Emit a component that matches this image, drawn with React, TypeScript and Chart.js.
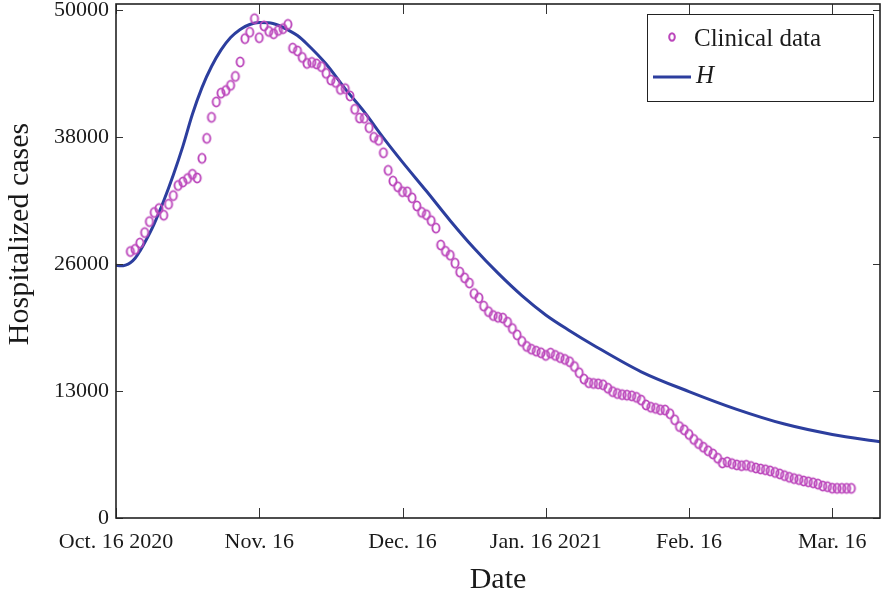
import React, { useEffect, useRef } from 'react';
import { Chart, registerables } from 'chart.js';

Chart.register(...registerables);

// ---- Data ----
const X_TICKS = [0, 30, 60, 90, 120, 150];
const X_LABELS = ['Oct. 16 2020', 'Nov. 16', 'Dec. 16', 'Jan. 16 2021', 'Feb. 16', 'Mar. 16'];
const Y_TICKS = [0, 12500, 25000, 37500, 50000];
const Y_LABELS = ['0', '13000', '26000', '38000', '50000'];

// Clinical data: one value per day, starting at day 3
const CLINICAL_START_DAY = 3;
const CLINICAL = [
  26240, 26460, 27080, 28110, 29190, 30090, 30470, 29820, 30900, 31750,
  32750, 33090, 33430, 33850, 33490, 35420, 37390, 39460, 40980, 41840,
  42100, 42610, 43490, 44910, 47210, 47840, 49170, 47300, 48460, 47920,
  47690, 48020, 48190, 48610, 46280, 46000, 45360, 44770, 44870, 44720,
  44450, 43790, 43130, 42900, 42210, 42280, 41570, 40250, 39390, 39370,
  38440, 37490, 37200, 35970, 34240, 33180, 32620, 32130, 32120, 31530,
  30730, 30110, 29870, 29280, 28550, 26880, 26270, 25880, 25090, 24220,
  23650, 23140, 22100, 21680, 20870, 20320, 19940, 19770, 19690, 19290,
  18660, 18040, 17400, 16900, 16620, 16430, 16270, 16010, 16240, 16010,
  15800, 15620, 15390, 14920, 14310, 13680, 13320, 13250, 13210, 13120,
  12780, 12440, 12260, 12150, 12100, 12030, 11880, 11610, 11130, 10910,
  10800, 10660, 10630, 10270, 9670, 9000, 8680, 8230, 7740, 7330,
  6970, 6620, 6310, 5890, 5420, 5510, 5350, 5230, 5150, 5190,
  5070, 4930, 4830, 4750, 4640, 4490, 4340, 4170, 4010, 3880,
  3780, 3650, 3560, 3460, 3340, 3150, 3080, 2930, 2920, 2920,
  2920, 2920,
];

// Model curve H
const H_DAYS = [0, 1, 2, 3, 4, 5, 6, 8, 10, 12, 14, 16, 18, 20, 22, 24, 26, 28, 30, 32, 34, 36, 38, 40, 44, 48, 52, 56, 60, 65, 70, 75, 80, 85, 90, 95, 100, 110, 120, 130, 140, 150, 160];
const H_VALUES = [24900, 24830, 24910, 25140, 25580, 26280, 27100, 28970, 31240, 33780, 36600, 39760, 42390, 44460, 46100, 47320, 48120, 48600, 48800, 48780, 48530, 48070, 47510, 46680, 44710, 42260, 39990, 37440, 35050, 32200, 29280, 26560, 24110, 21900, 20000, 18450, 17020, 14400, 12450, 10700, 9250, 8230, 7510];

const X_MIN = 0;
const X_MAX = 160;
const Y_MIN = 0;
const Y_MAX = 50620;

const FONT = '"Liberation Serif", "Times New Roman", serif';
const TEXT = '#1a1a1a';
const PURPLE = 'rgb(188,72,188)';
const BLUE = 'rgb(44,62,158)';

function makeEllipse(rx: number, ry: number, lw: number, color: string) {
  const c = document.createElement('canvas');
  const w = Math.ceil(2 * rx + lw + 2);
  const h = Math.ceil(2 * ry + lw + 2);
  c.width = w;
  c.height = h;
  const ctx = c.getContext('2d')!;
  ctx.strokeStyle = color;
  ctx.lineWidth = lw;
  ctx.beginPath();
  ctx.ellipse(w / 2, h / 2, rx, ry, 0, 0, Math.PI * 2);
  ctx.stroke();
  return c;
}

const zeroPad = (s: any) => {
  s.paddingTop = 0;
  s.paddingBottom = 0;
  s.paddingLeft = 0;
  s.paddingRight = 0;
};

const framePlugin = {
  id: 'frameAndLegend',
  afterDraw(chart: any) {
    const { ctx, chartArea: a, scales } = chart;
    const xs = scales.x;
    const ys = scales.y;
    ctx.save();
    const line = (x1: number, y1: number, x2: number, y2: number) => {
      ctx.beginPath();
      ctx.moveTo(x1, y1);
      ctx.lineTo(x2, y2);
      ctx.stroke();
    };
    ctx.strokeStyle = '#333';
    ctx.lineWidth = 1;
    X_TICKS.forEach((v) => {
      const px = Math.round(xs.getPixelForValue(v)) + 0.5;
      line(px, a.bottom, px, a.bottom - 10);
      line(px, a.top, px, a.top + 10);
    });
    Y_TICKS.forEach((v) => {
      const py = Math.round(ys.getPixelForValue(v)) + 0.5;
      line(a.left, py, a.left + 7, py);
      line(a.right, py, a.right - 7, py);
    });
    ctx.strokeStyle = '#222';
    ctx.lineWidth = 1.6;
    ctx.strokeRect(a.left, a.top, a.right - a.left, a.bottom - a.top);

    // y axis title
    ctx.save();
    ctx.translate(28, 234);
    ctx.rotate(-Math.PI / 2);
    ctx.fillStyle = TEXT;
    ctx.font = `30px ${FONT}`;
    ctx.textAlign = 'center';
    ctx.textBaseline = 'alphabetic';
    ctx.fillText('Hospitalized cases', 0, 0);
    ctx.restore();

    // legend
    const lx = a.right - 233;
    const ly = a.top + 10;
    ctx.fillStyle = '#fff';
    ctx.fillRect(lx, ly, 226, 87);
    ctx.strokeStyle = '#222';
    ctx.lineWidth = 1;
    ctx.strokeRect(lx + 0.5, ly + 0.5, 226, 87);
    ctx.strokeStyle = PURPLE;
    ctx.lineWidth = 2;
    ctx.beginPath();
    ctx.ellipse(lx + 25, ly + 23, 2.8, 3.8, 0, 0, Math.PI * 2);
    ctx.stroke();
    ctx.fillStyle = TEXT;
    ctx.font = `25px ${FONT}`;
    ctx.textAlign = 'left';
    ctx.textBaseline = 'alphabetic';
    ctx.fillText('Clinical data', lx + 47, ly + 32);
    ctx.strokeStyle = BLUE;
    ctx.lineWidth = 3;
    line(lx + 6, ly + 63, lx + 44, ly + 63);
    ctx.font = `italic 25px ${FONT}`;
    ctx.fillText('H', lx + 49, ly + 69);
    ctx.restore();
  },
};

export default function App() {
  const ref = useRef<HTMLCanvasElement | null>(null);
  useEffect(() => {
    if (!ref.current) return;
    const marker = makeEllipse(3.6, 4.6, 1.9, PURPLE);
    const clinicalData = CLINICAL.map((v, i) => ({ x: CLINICAL_START_DAY + i, y: v }));
    const hData = H_DAYS.map((d, i) => ({ x: d, y: H_VALUES[i] }));
    const chart = new Chart(ref.current, {
      type: 'line',
      data: {
        datasets: [
          {
            label: 'H',
            data: hData,
            borderColor: BLUE,
            borderWidth: 3,
            pointRadius: 0,
            fill: false,
            cubicInterpolationMode: 'monotone',
            order: 2,
          },
          {
            label: 'Clinical data',
            data: clinicalData,
            showLine: false,
            pointStyle: marker as any,
            pointRadius: 4,
            borderColor: PURPLE,
            backgroundColor: 'transparent',
            order: 1,
          },
        ],
      },
      options: {
        responsive: false,
        animation: false,
        layout: { autoPadding: false, padding: { top: 4, right: 2, left: 0, bottom: 0 } },
        plugins: { legend: { display: false }, tooltip: { enabled: false } },
        scales: {
          x: {
            type: 'linear',
            min: X_MIN,
            max: X_MAX,
            grid: { display: false, drawTicks: false },
            border: { display: false },
            afterBuildTicks: (s: any) => {
              s.ticks = X_TICKS.map((v) => ({ value: v }));
            },
            afterFit: (s: any) => {
              s.height = 77;
              zeroPad(s);
            },
            ticks: {
              callback: (v: any) => X_LABELS[X_TICKS.indexOf(Number(v))] ?? '',
              font: { family: FONT, size: 22 },
              color: TEXT,
              padding: 11,
              maxRotation: 0,
              autoSkip: false,
            },
            title: {
              display: true,
              text: 'Date',
              font: { family: FONT, size: 30, lineHeight: 1 },
              color: TEXT,
              padding: { top: 0, bottom: 0 },
            },
          },
          y: {
            type: 'linear',
            min: Y_MIN,
            max: Y_MAX,
            grid: { display: false, drawTicks: false },
            border: { display: false },
            afterBuildTicks: (s: any) => {
              s.ticks = Y_TICKS.map((v) => ({ value: v }));
            },
            afterFit: (s: any) => {
              s.width = 116;
              zeroPad(s);
            },
            ticks: {
              callback: (v: any) => Y_LABELS[Y_TICKS.indexOf(Number(v))] ?? '',
              font: { family: FONT, size: 22 },
              color: TEXT,
              padding: 7,
              autoSkip: false,
            },
          },
        },
      },
      plugins: [framePlugin],
    });
    return () => chart.destroy();
  }, []);
  return (
    <div style={{ position: 'absolute', left: 0, top: 0, width: 882, height: 595, background: '#fff' }}>
      <canvas ref={ref} width={882} height={595} style={{ display: 'block' }} />
    </div>
  );
}
